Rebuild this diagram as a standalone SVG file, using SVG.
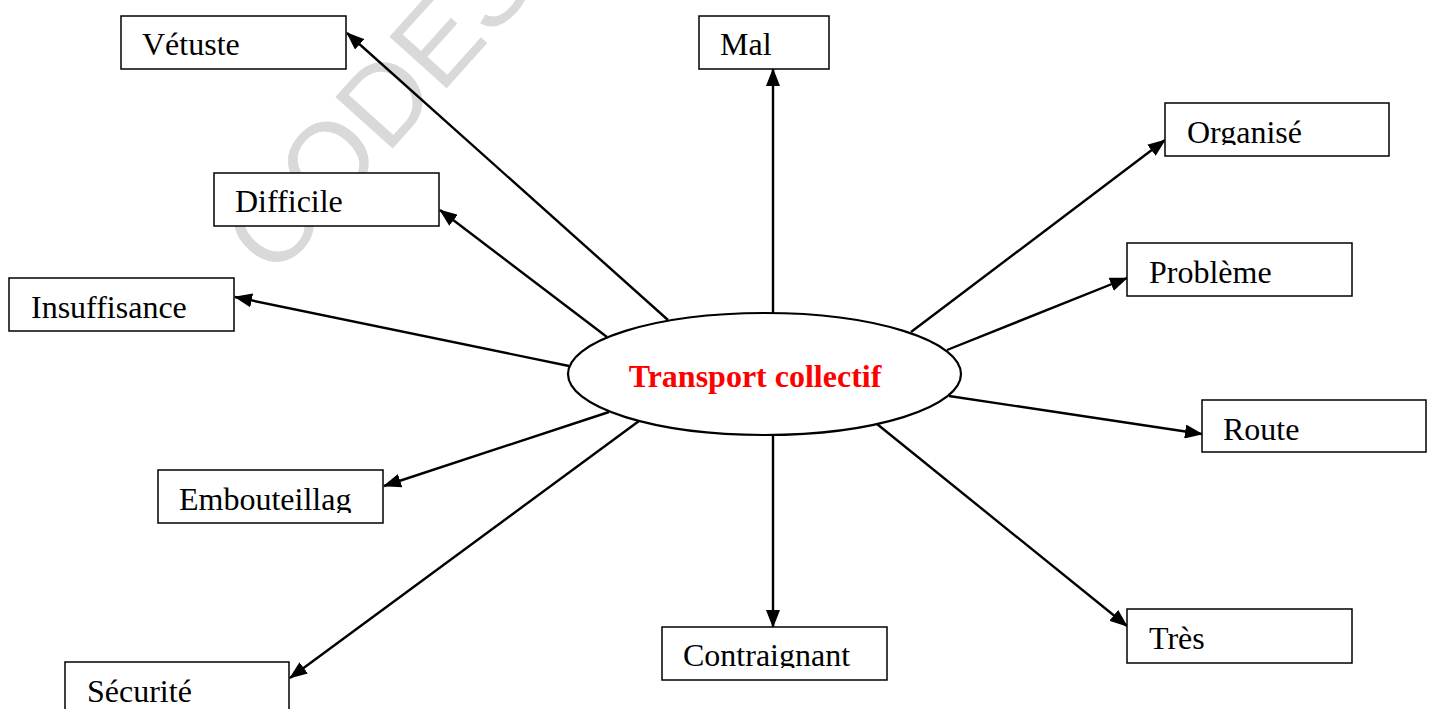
<svg xmlns="http://www.w3.org/2000/svg" width="1432" height="709" viewBox="0 0 1432 709">
  <style>
    .box { fill: #ffffff; stroke: #000000; stroke-width: 1.5; }
    .lbl { font-family: "Liberation Serif", "Times New Roman", serif; font-size: 32px; fill: #000000; }
    .link { stroke: #000000; stroke-width: 2.4; fill: none; marker-end: url(#head); }
    .hub { fill: #ffffff; stroke: #000000; stroke-width: 2.2; }
    .hub-lbl { font-family: "Liberation Serif", "Times New Roman", serif; font-size: 32px; font-weight: bold; fill: #ff0000; }
    .mark { font-family: "Liberation Sans", Arial, sans-serif; font-size: 112px; fill: #d9d9d9; }
  </style>
  <defs>
    <marker id="head" markerUnits="userSpaceOnUse" markerWidth="18" markerHeight="14" refX="17" refY="7" orient="auto">
      <path d="M0,0 L18,7 L0,14 Z" fill="#000000"/>
    </marker>
    <!-- text areas of the boxes whose labels run past the inner margin -->
    <clipPath id="clip-organise"><rect x="1165" y="103" width="224" height="42"/></clipPath>
    <clipPath id="clip-embouteillag"><rect x="158" y="470" width="225" height="43"/></clipPath>
    <clipPath id="clip-contraignant"><rect x="662" y="627" width="225" height="41"/></clipPath>
  </defs>

  <rect width="1432" height="709" fill="#ffffff"/>

  <!-- background watermark -->
  <text class="mark" x="274" y="280" transform="rotate(-48 274 280)">CODESR</text>

  <g id="connectors">
    <line class="link" x1="668" y1="320" x2="347" y2="33"/>
    <line class="link" x1="607" y1="337" x2="440" y2="210"/>
    <line class="link" x1="569" y1="366" x2="235" y2="297"/>
    <line class="link" x1="609" y1="412" x2="384" y2="486"/>
    <line class="link" x1="639" y1="421" x2="290" y2="678"/>
    <line class="link" x1="773" y1="435" x2="773" y2="627"/>
    <line class="link" x1="773" y1="313" x2="773" y2="69"/>
    <line class="link" x1="911" y1="332" x2="1165" y2="140"/>
    <line class="link" x1="947" y1="350" x2="1127" y2="278"/>
    <line class="link" x1="949" y1="396" x2="1202" y2="434"/>
    <line class="link" x1="877" y1="424" x2="1127" y2="626"/>
  </g>

  <g id="hub">
    <ellipse class="hub" cx="764.5" cy="374" rx="196.5" ry="61"/>
    <text class="hub-lbl" x="755" y="387" text-anchor="middle">Transport collectif</text>
  </g>

  <g id="node-vetuste">
    <rect class="box" x="121" y="16" width="225" height="53"/>
    <text class="lbl" x="142" y="55">Vétuste</text>
  </g>
  <g id="node-difficile">
    <rect class="box" x="214" y="173" width="225" height="53"/>
    <text class="lbl" x="235" y="212">Difficile</text>
  </g>
  <g id="node-insuffisance">
    <rect class="box" x="9" y="278" width="225" height="53"/>
    <text class="lbl" x="31" y="318">Insuffisance</text>
  </g>
  <g id="node-embouteillag">
    <rect class="box" x="158" y="470" width="225" height="53"/>
    <text class="lbl" x="179" y="510" clip-path="url(#clip-embouteillag)">Embouteillag</text>
  </g>
  <g id="node-securite">
    <rect class="box" x="65" y="662" width="224" height="56"/>
    <text class="lbl" x="87" y="702">Sécurité</text>
  </g>
  <g id="node-contraignant">
    <rect class="box" x="662" y="627" width="225" height="53"/>
    <text class="lbl" x="683" y="666" clip-path="url(#clip-contraignant)">Contraignant</text>
  </g>
  <g id="node-mal">
    <rect class="box" x="699" y="16" width="130" height="53"/>
    <text class="lbl" x="720" y="55">Mal</text>
  </g>
  <g id="node-organise">
    <rect class="box" x="1165" y="103" width="224" height="53"/>
    <text class="lbl" x="1187" y="143" clip-path="url(#clip-organise)">Organisé</text>
  </g>
  <g id="node-probleme">
    <rect class="box" x="1127" y="243" width="225" height="53"/>
    <text class="lbl" x="1149" y="283">Problème</text>
  </g>
  <g id="node-route">
    <rect class="box" x="1202" y="400" width="224" height="52"/>
    <text class="lbl" x="1223" y="440">Route</text>
  </g>
  <g id="node-tres">
    <rect class="box" x="1127" y="609" width="225" height="54"/>
    <text class="lbl" x="1149" y="649">Très</text>
  </g>
</svg>
